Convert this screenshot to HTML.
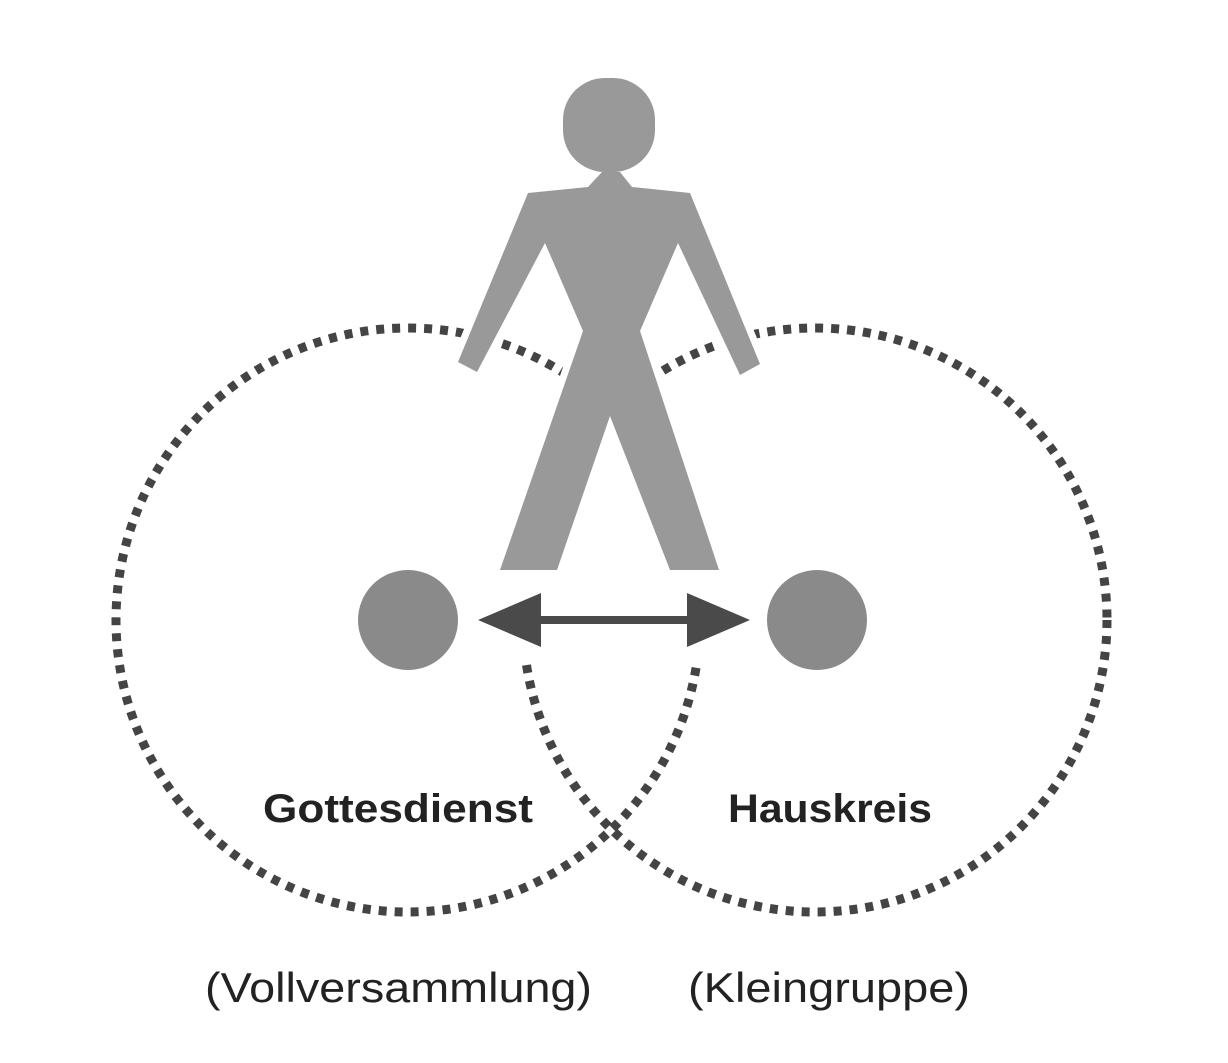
<!DOCTYPE html>
<html><head><style>html,body{margin:0;padding:0;background:#fff}</style></head><body>
<svg width="1228" height="1058" viewBox="0 0 1228 1058" xmlns="http://www.w3.org/2000/svg">
<rect width="1228" height="1058" fill="#fff"/>
<g fill="none" stroke="#444" stroke-width="9" stroke-dasharray="8 8">
<ellipse cx="408" cy="620" rx="292" ry="292"/>
<ellipse cx="815" cy="620" rx="292" ry="292"/>
</g>
<rect x="470" y="565" width="290" height="97" fill="#fff"/>
<path d="M602,172 L620,172 L632,187 L690,193 L760,364 L740,375 L678,243 L640,331 L719,570 L670,570 L610,416 L557,570 L500,570 L583,331 L545,243 L477,372 L458,362 L528,193 L588,187 Z" fill="#999" stroke="#fff" stroke-width="14" stroke-linejoin="round"/>
<path d="M602,172 L620,172 L632,187 L690,193 L760,364 L740,375 L678,243 L640,331 L719,570 L670,570 L610,416 L557,570 L500,570 L583,331 L545,243 L477,372 L458,362 L528,193 L588,187 Z" fill="#999"/>
<rect x="563" y="78" width="92" height="94" rx="42" fill="#999"/>
<circle cx="408" cy="620" r="50" fill="#8a8a8a"/>
<circle cx="817" cy="620" r="50" fill="#8a8a8a"/>
<line x1="530" y1="620" x2="700" y2="620" stroke="#4a4a4a" stroke-width="8"/>
<polygon points="478,620 541,593 541,647" fill="#4a4a4a"/>
<polygon points="750,620 687,593 687,647" fill="#4a4a4a"/>
<g font-family="Liberation Sans, sans-serif" fill="#222">
<text x="263" y="822" font-size="40" font-weight="bold" textLength="270" lengthAdjust="spacingAndGlyphs">Gottesdienst</text>
<text x="728" y="822" font-size="40" font-weight="bold" textLength="204" lengthAdjust="spacingAndGlyphs">Hauskreis</text>
<text x="205" y="1002" font-size="42" textLength="387" lengthAdjust="spacingAndGlyphs">(Vollversammlung)</text>
<text x="688" y="1002" font-size="42" textLength="282" lengthAdjust="spacingAndGlyphs">(Kleingruppe)</text>
</g>
</svg>
</body></html>
